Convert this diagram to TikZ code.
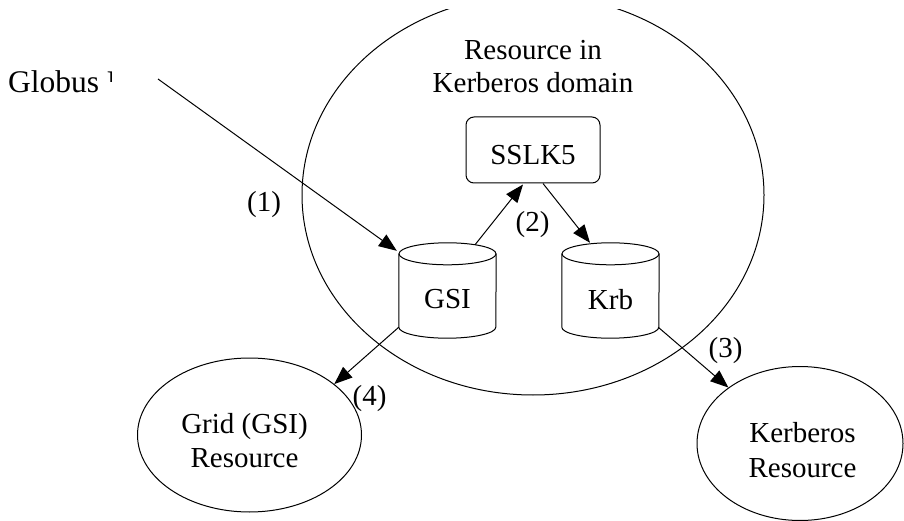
\documentclass[tikz,border=0pt]{standalone}
\usepackage{fontspec}
\setmainfont{Liberation Serif}
\usetikzlibrary{arrows.meta,calc,shapes.geometric}

% database cylinder drawn around an (invisible) rectangular node
\newcommand\dbcylinder[1]{%
  \draw[thinline] ($(#1.north)+(0,11)$) ellipse[x radius=48.5pt, y radius=11pt];
  \draw[thinline] ($(#1.north west)+(0,11)$) -- ($(#1.south west)+(0,-11)$)
    arc[start angle=180, end angle=360, x radius=48.5pt, y radius=11pt]
    -- ($(#1.north east)+(0,11)$);
}

\begin{document}
\begin{tikzpicture}[x=1pt,y=-1pt,
  thinline/.style={line width=1pt},
  txt/.style={inner sep=0pt, align=center, font=\fontsize{29}{34.5}\selectfont},
  flow/.style={thinline, -{Triangle[length=18pt,width=14pt]}},
  oval/.style={draw, thinline, ellipse, inner sep=0pt},
  dbbody/.style={inner sep=0pt, minimum width=97pt, minimum height=95pt},
  procbox/.style={draw, thinline, rounded corners=8pt, inner sep=0pt,
                  minimum width=134pt, minimum height=66pt}]
\useasboundingbox (0,0) rectangle (904,521);

% user label, cut off at its right edge
\begin{scope}
  \clip (0,0) -- (111,0) -- (111,82) -- (107.5,82) -- (107.5,521) -- (0,521) -- cycle;
  \node[txt, font=\fontsize{31.5}{36}\selectfont, anchor=base west] (globus) at (8,93) {Globus User};
\end{scope}
\coordinate (userend) at (158,79);

% Kerberos domain
\begin{scope}
  \clip (0,10) rectangle (904,521);
  \node[oval, minimum width=462pt, minimum height=400pt] (kdomain) at (533,195) {};
\end{scope}
\node[txt, anchor=north, font=\fontsize{29}{33}\selectfont] (kdomaintxt) at (533,40) {Resource in\\Kerberos domain};

% SSLK5 service
\node[procbox] (sslk) at (533,150) {};
\node[txt] (sslktxt) at (533,155) {SSLK5};

% credential stores
\node[dbbody] (gsi) at (447.5,290.5) {};
\dbcylinder{gsi}
\node[txt] (gsitxt) at (447.5,299.5) {GSI};

\node[dbbody] (krb) at (610.5,290.5) {};
\dbcylinder{krb}
\node[txt] (krbtxt) at (610.5,299.5) {Krb};

% target resources
\node[oval, minimum width=224pt, minimum height=154pt] (grid) at (249.5,435) {};
\node[txt] (gridtxt) at (244.5,440.5) {Grid (GSI)\\Resource};

\node[oval, minimum width=206pt, minimum height=154pt] (kres) at (800,443.5) {};
\node[txt] (krestxt) at (802.5,450) {Kerberos\\Resource};

% flows
\draw[flow] (userend) -- ($(gsi.north west)+(-2,8)$);
\draw[flow] ($(gsi.north)+(27.5,2)$) -- ($(sslk.south)+(-10,1)$);
\draw[flow] ($(sslk.south)+(10,0)$) -- ($(krb.north)+(-20.5,0)$);
\draw[flow] ($(krb.south east)+(-1,-11)$) -- (kres.142);
\draw[flow] ($(gsi.south west)+(0,-11)$) -- (grid.31);

% step numbers
\node[txt] (n1) at (264,205) {(1)};
\node[txt] (n2) at (532.5,225) {(2)};
\node[txt] (n3) at (725.5,351) {(3)};
\node[txt] (n4) at (369.5,398.5) {(4)};
\end{tikzpicture}
\end{document}
